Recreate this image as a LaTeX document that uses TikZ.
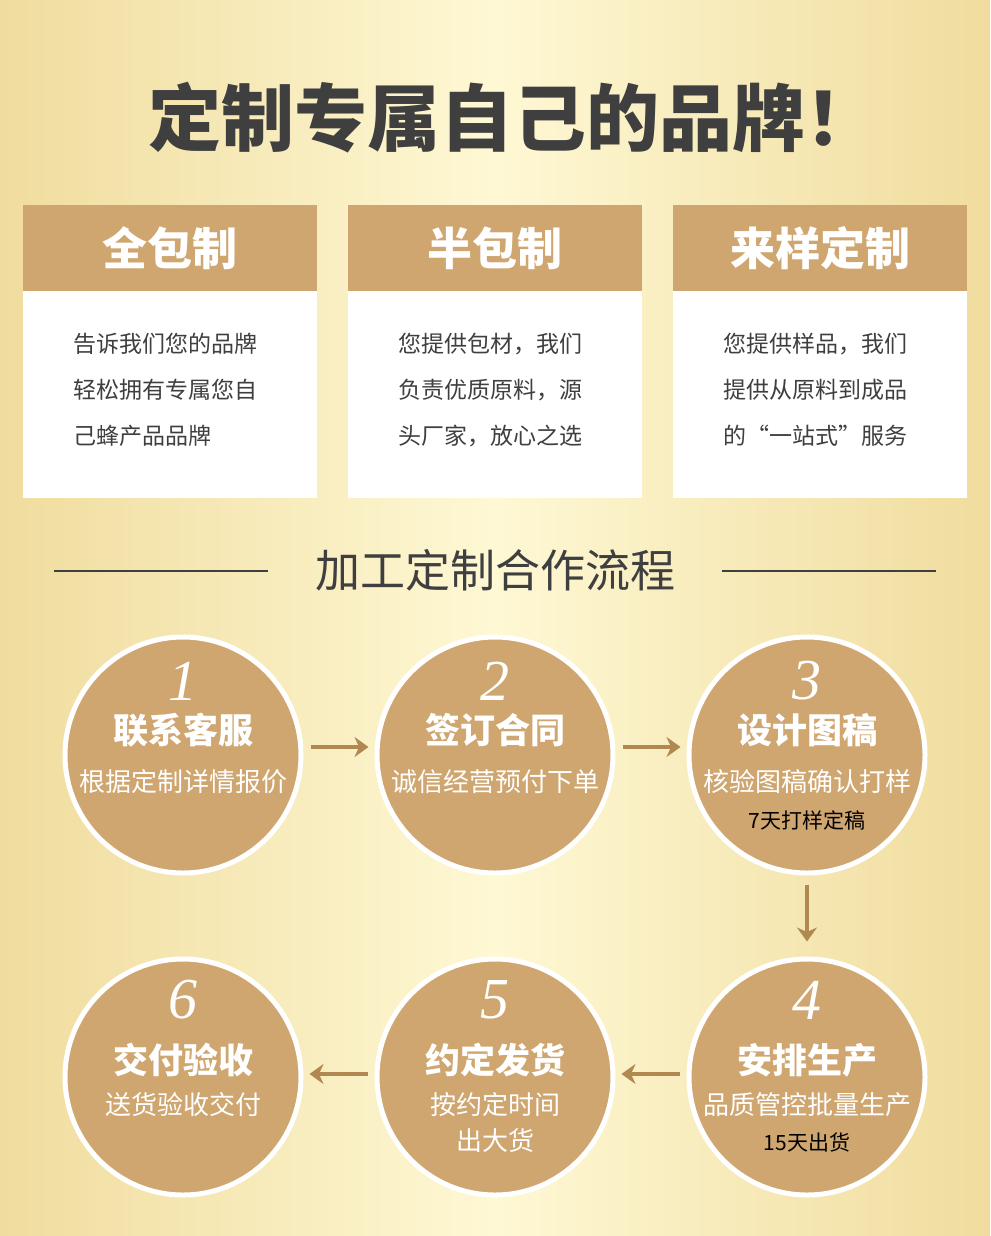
\documentclass[tikz,border=0pt]{standalone}
\usepackage{fontspec}
\setmainfont{Noto Sans CJK SC}
\newfontfamily\numfont{Liberation Serif}
\usetikzlibrary{arrows.meta}
\definecolor{gold}{HTML}{CFA66F}
\definecolor{arr}{HTML}{B08850}
\definecolor{dark}{HTML}{3F3F3F}
\definecolor{bgedge}{HTML}{F0DC9E}
\definecolor{bgmid}{HTML}{FEF8D4}
\tikzset{
 card/.style={fill=gold,draw=none},
 bodybox/.style={fill=white,draw=none},
 circ/.style={circle,fill=gold,draw=white,line width=5pt,minimum size=236pt,inner sep=0pt},
 flow/.style={draw=arr,line width=4pt,-{Stealth[length=14pt,width=20pt]}},
 hd/.style={text=white,font=\fontsize{45}{48}\selectfont\bfseries},
 bd/.style={text=dark,font=\fontsize{23}{46}\selectfont,align=left,anchor=north west},
 num/.style={text=white,font=\fontsize{58}{58}\selectfont\numfont\itshape},
 ct/.style={text=white,font=\fontsize{35}{38}\selectfont\bfseries},
 cs/.style={text=white,font=\fontsize{26}{36}\selectfont,align=center},
 cb/.style={text=black,font=\fontsize{21}{22}\selectfont}
}
\begin{document}
\begin{tikzpicture}[x=1pt,y=-1pt]
\shade[left color=bgedge, right color=bgedge, middle color=bgmid] (0,0) rectangle (990,1236);
\useasboundingbox (0,0) rectangle (990,1236);
\node[text=dark,font=\fontsize{73}{76}\selectfont\bfseries] (title) at (513,118) {定制专属自己的品牌！};
% cards
\foreach \x/\h/\n in {23/全包制/a,348/半包制/b,673/来样定制/c}{
 \fill[bodybox] (\x,291) rectangle ++(294,207);
 \fill[card] (\x,205) rectangle ++(294,86);
 \node[hd] (h\n) at (\x+147,248) {\h};
}
\node[bd] (ba) at (70,330) {告诉我们您的品牌\\轻松拥有专属您自\\己蜂产品品牌};
\node[bd] (bb) at (395,330) {您提供包材，我们\\负责优质原料，源\\头厂家，放心之选};
\node[bd] (bc) at (720,330) {您提供样品，我们\\提供从原料到成品\\的“一站式”服务};
\node[text=dark,font=\fontsize{45}{48}\selectfont] (sec) at (495,570) {加工定制合作流程};
\coordinate (l1) at (54,571); \coordinate (l2) at (268,571);
\coordinate (r1) at (722,571); \coordinate (r2) at (936,571);
\draw[dark,line width=1.5pt] (l1) -- (l2); \draw[dark,line width=1.5pt] (r1) -- (r2);
% circles
\node[circ] (c1) at (183,755) {};
\node[circ] (c2) at (495,755) {};
\node[circ] (c3) at (807,755) {};
\node[circ] (c4) at (807,1077) {};
\node[circ] (c5) at (495,1077) {};
\node[circ] (c6) at (183,1077) {};
\foreach \c/\n in {1/1,2/2,3/3}{\node[num] (n\c) at ([yshift=74pt]c\c) {\n};}
\foreach \c/\n in {4/4,5/5,6/6}{\node[num] (n\c) at ([yshift=77pt]c\c) {\n};}
\node[ct] (t1) at ([yshift=25pt]c1) {联系客服};
\node[ct] (t2) at ([yshift=25pt]c2) {签订合同};
\node[ct] (t3) at ([yshift=25pt]c3) {设计图稿};
\node[ct] (t4) at ([yshift=17pt]c4) {安排生产};
\node[ct] (t5) at ([yshift=17pt]c5) {约定发货};
\node[ct] (t6) at ([yshift=17pt]c6) {交付验收};
\node[cs] (s1) at ([yshift=-27pt]c1) {根据定制详情报价};
\node[cs] (s2) at ([yshift=-27pt]c2) {诚信经营预付下单};
\node[cs] (s3) at ([yshift=-27pt]c3) {核验图稿确认打样};
\node[cb] (b3) at ([yshift=-65pt]c3) {7天打样定稿};
\node[cs] (s4) at ([yshift=-28pt]c4) {品质管控批量生产};
\node[cb] (b4) at ([yshift=-65pt]c4) {15天出货};
\node[cs] (s5) at ([yshift=-46pt]c5) {按约定时间\\出大货};
\node[cs] (s6) at ([yshift=-28pt]c6) {送货验收交付};
\draw[flow] (c1.east)++(7,-8) -- ++(58,0);
\draw[flow] (c2.east)++(7,-8) -- ++(58,0);
\draw[flow] (c3.south)++(0,9) -- ++(0,57);
\draw[flow] (c4.west)++(-7,-3) -- ++(-58,0);
\draw[flow] (c5.west)++(-7,-3) -- ++(-58,0);
\end{tikzpicture}
\end{document}
